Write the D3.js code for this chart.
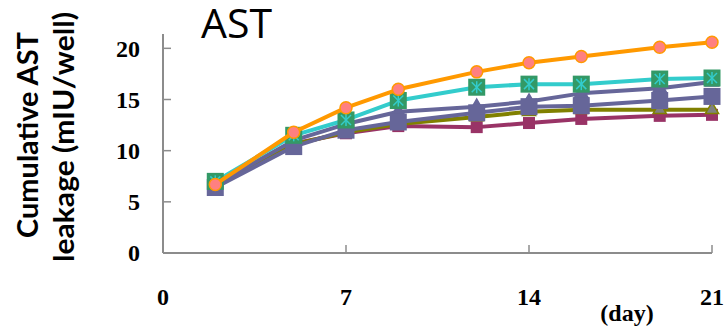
<!DOCTYPE html>
<html>
<head>
<meta charset="utf-8">
<title>AST</title>
<script src="https://d3js.org/d3.v7.min.js"></script>
<style>
  body { margin: 0; background: #fff; }
</style>
</head>
<body>
<div id="chart"></div>
<script>
// days sampled
var days = [2, 5, 7, 9, 12, 14, 16, 19, 21];

// cumulative AST leakage (mIU/well)
var maroonVals = [6.6, 10.7, 11.7, 12.4, 12.3, 12.7, 13.1, 13.4, 13.5];
var oliveVals  = [6.6, 10.6, 11.8, 12.6, 13.3, 13.8, 14.0, 14.0, 14.0];
var slateTriVals = [6.7, 11.0, 12.6, 13.8, 14.3, 14.8, 15.6, 16.1, 16.7];
var slateSqVals  = [6.4, 10.4, 12.0, 12.8, 13.7, 14.3, 14.4, 14.9, 15.3];
var tealVals   = [7.0, 11.5, 13.0, 14.9, 16.2, 16.5, 16.5, 17.0, 17.1];
var orangeVals = [6.7, 11.8, 14.2, 16.0, 17.7, 18.6, 19.2, 20.1, 20.6];

var xTicks = [0, 7, 14, 21];
var yTicks = [0, 5, 10, 15, 20];

var W = 727, H = 330;
var svg = d3.select("#chart").append("svg")
    .attr("width", W).attr("height", H);

var x = d3.scaleLinear().domain([0, 21]).range([163, 712]);
var y = d3.scaleLinear().domain([0, 21.4]).range([253, 34]);

// axes
var axisColor = "#8c8c8c";
svg.append("line")
    .attr("x1", x(0)).attr("x2", x(0))
    .attr("y1", y(0)).attr("y2", y(21.4))
    .attr("stroke", axisColor).attr("stroke-width", 2);
svg.append("line")
    .attr("x1", x(0)).attr("x2", x(21))
    .attr("y1", y(0)).attr("y2", y(0))
    .attr("stroke", axisColor).attr("stroke-width", 2);

svg.selectAll(".ytick").data(yTicks).enter().append("line")
    .attr("x1", x(0)).attr("x2", x(0) + 8)
    .attr("y1", function(d) { return y(d); })
    .attr("y2", function(d) { return y(d); })
    .attr("stroke", axisColor).attr("stroke-width", 1.5);
svg.selectAll(".xtick").data(xTicks.slice(1)).enter().append("line")
    .attr("x1", function(d) { return x(d); })
    .attr("x2", function(d) { return x(d); })
    .attr("y1", y(0)).attr("y2", y(0) - 8)
    .attr("stroke", axisColor).attr("stroke-width", 1.5);

// tick labels
var serif = "'Liberation Serif', 'Times New Roman', serif";
svg.selectAll(".ylab").data(yTicks).enter().append("text")
    .attr("x", 140)
    .attr("y", function(d) { return y(d); })
    .attr("dy", "0.35em")
    .attr("text-anchor", "end")
    .attr("font-family", serif).attr("font-weight", "bold")
    .attr("font-size", 24)
    .text(function(d) { return d; });
svg.selectAll(".xlab").data(xTicks).enter().append("text")
    .attr("x", function(d) { return x(d); })
    .attr("y", 297)
    .attr("dy", "0.35em")
    .attr("text-anchor", "middle")
    .attr("font-family", serif).attr("font-weight", "bold")
    .attr("font-size", 24)
    .text(function(d) { return d; });
svg.append("text")
    .attr("x", 627).attr("y", 321)
    .attr("text-anchor", "middle")
    .attr("font-family", serif).attr("font-weight", "bold")
    .attr("font-size", 24)
    .text("(day)");

// axis title
var sans = "Lato, 'Open Sans', sans-serif";
var title = svg.append("g")
    .attr("font-family", sans).attr("font-weight", "bold")
    .attr("font-size", 28).attr("text-anchor", "middle");
title.append("text")
    .attr("transform", "translate(38,135) rotate(-90)")
    .attr("textLength", 206).attr("lengthAdjust", "spacingAndGlyphs")
    .text("Cumulative AST");
title.append("text")
    .attr("transform", "translate(74,137) rotate(-90)")
    .attr("textLength", 250).attr("lengthAdjust", "spacingAndGlyphs")
    .text("leakage (mIU/well)");

svg.append("text")
    .attr("x", 201).attr("y", 38)
    .attr("font-family", "'Open Sans', sans-serif")
    .attr("font-size", 41)
    .text("AST");

// series
var line = d3.line()
    .x(function(d, i) { return x(days[i]); })
    .y(function(d) { return y(d); });

function drawLine(vals, color) {
  svg.append("path").datum(vals)
    .attr("fill", "none")
    .attr("stroke", color)
    .attr("stroke-width", 4)
    .attr("stroke-linejoin", "round")
    .attr("d", line);
}

function squares(vals, size, fill) {
  svg.append("g").selectAll("rect").data(vals).enter().append("rect")
    .attr("x", function(d, i) { return x(days[i]) - size / 2; })
    .attr("y", function(d) { return y(d) - size / 2; })
    .attr("width", size).attr("height", size)
    .attr("fill", fill);
}

function triangles(vals, size, fill, stroke) {
  var sym = d3.symbol().type(d3.symbolTriangle).size(size);
  svg.append("g").selectAll("path").data(vals).enter().append("path")
    .attr("transform", function(d, i) { return "translate(" + x(days[i]) + "," + y(d) + ")"; })
    .attr("d", sym)
    .attr("fill", fill)
    .attr("stroke", stroke).attr("stroke-width", 1.5);
}

// maroon
drawLine(maroonVals, "#993366");
squares(maroonVals, 12, "#993366");

// olive with gray triangles
drawLine(oliveVals, "#808000");
triangles(oliveVals, 75, "#808080", "#808000");

// slate with triangles
drawLine(slateTriVals, "#666699");
triangles(slateTriVals, 75, "#666699", "#666699");

// slate with squares
drawLine(slateSqVals, "#666699");
squares(slateSqVals, 17, "#666699");

// cyan line, teal squares with asterisk
drawLine(tealVals, "#33CCCC");
squares(tealVals, 17, "#339966");
var star = svg.append("g").selectAll("g").data(tealVals).enter().append("g")
    .attr("transform", function(d, i) { return "translate(" + x(days[i]) + "," + y(d) + ")"; })
    .attr("stroke", "#33CCCC").attr("stroke-width", 1.5);
star.append("line").attr("x1", 0).attr("x2", 0).attr("y1", -6).attr("y2", 6);
star.append("line").attr("x1", -5).attr("x2", 5).attr("y1", -5).attr("y2", 5);
star.append("line").attr("x1", -5).attr("x2", 5).attr("y1", 5).attr("y2", -5);

// orange line with salmon circles
drawLine(orangeVals, "#FF9900");
svg.append("g").selectAll("circle").data(orangeVals).enter().append("circle")
    .attr("cx", function(d, i) { return x(days[i]); })
    .attr("cy", function(d) { return y(d); })
    .attr("r", 6)
    .attr("fill", "#FF8080")
    .attr("stroke", "#FF9900").attr("stroke-width", 1.5);
</script>
</body>
</html>
